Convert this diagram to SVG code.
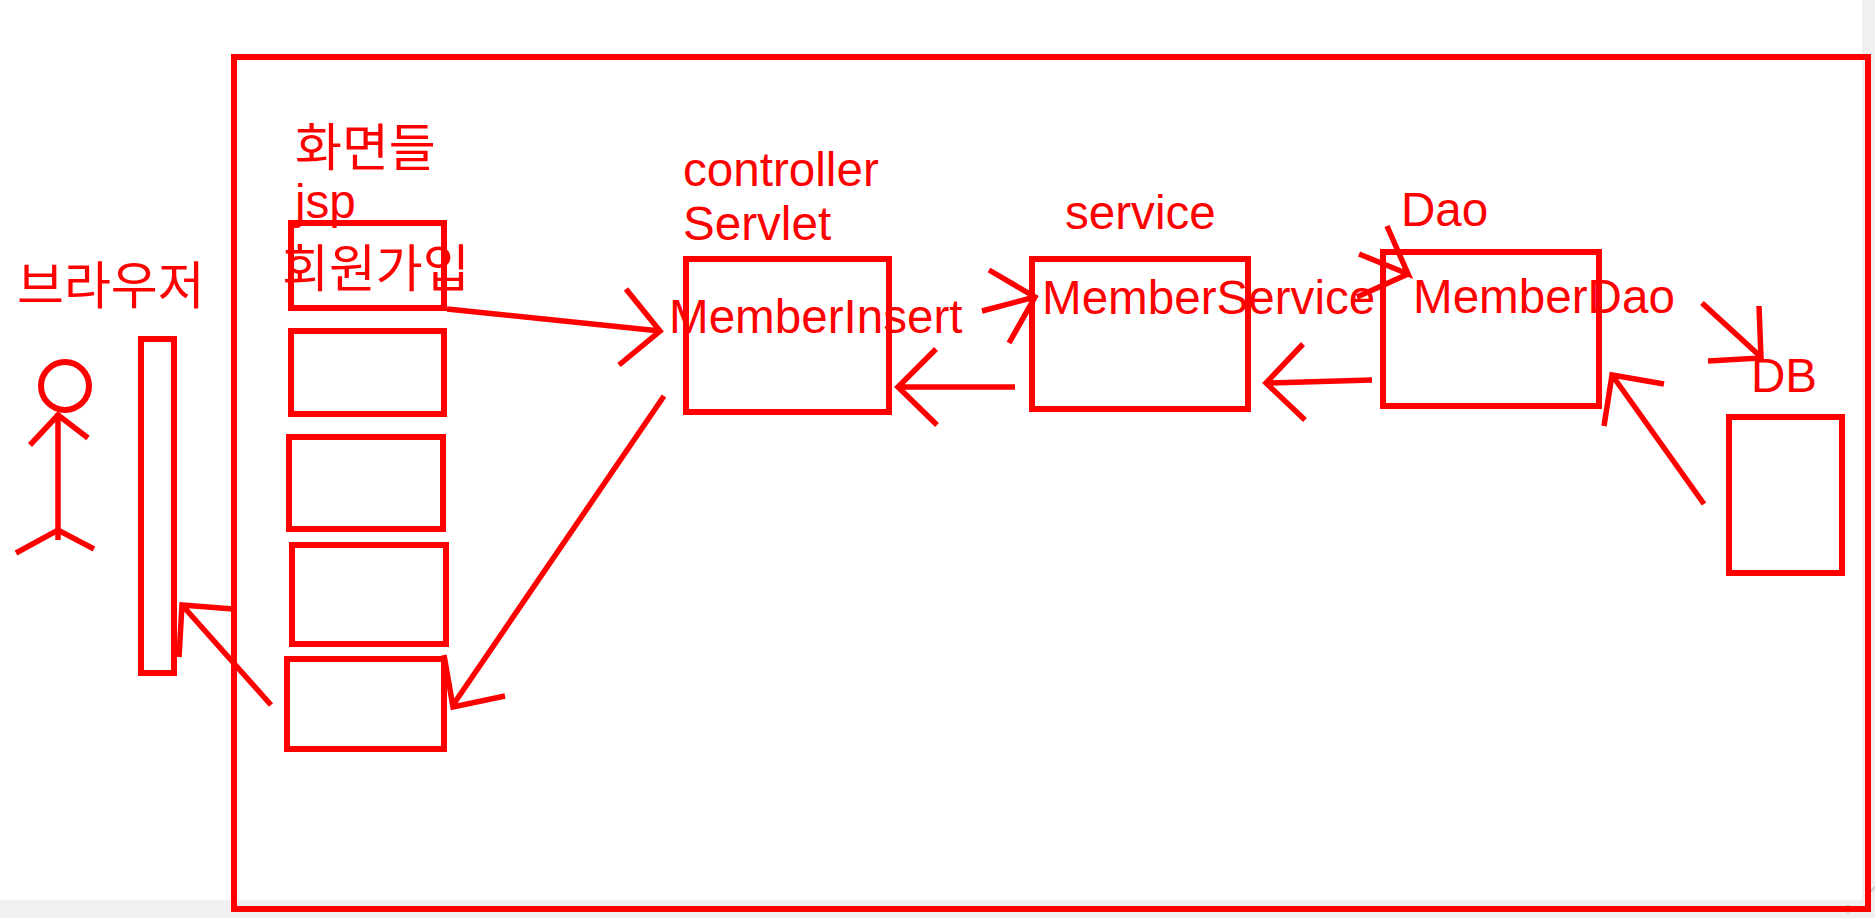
<svg xmlns="http://www.w3.org/2000/svg" width="1875" height="918" viewBox="0 0 1875 918">
<style>
.b{fill:none;stroke:#f00;stroke-width:6}
.c{fill:none;stroke:#f00;stroke-width:5.5}
.t{font-family:"Liberation Sans","Noto Sans CJK KR",sans-serif;font-size:47.6px;fill:#f00}
.k{font-family:"Noto Sans CJK KR","Liberation Sans",sans-serif;font-size:51px;fill:#f00}
</style>
<rect width="1875" height="918" fill="#f0f0f0"/>
<rect width="1862" height="900" fill="#fff"/>
<path d="M1846 906L1850 906M1848 906V913M1870 892L1875 887" fill="none" stroke="#c8c8c8" stroke-width="2"/>
<g id="frame"><rect class="b" x="234" y="57" width="1634" height="852"/></g>
<g id="actor">
<circle class="b" cx="65" cy="386" r="24"/>
<path class="c" d="M58 413V540M30 445L58 415L88 438M16 553L58 530L94 549"/>
<text class="k" x="17" y="304">브라우저</text>
</g>
<g id="browser"><rect class="b" x="141" y="339" width="33" height="334"/></g>
<g id="screens-label"><text class="k" x="295" y="166">화면들</text><text class="t" x="295" y="218">jsp</text></g>
<g id="screen1"><rect class="b" x="291" y="223" width="153" height="85"/><text class="k" x="282" y="287">회원가입</text></g>
<g id="screen2"><rect class="b" x="291" y="331" width="153" height="83"/></g>
<g id="screen3"><rect class="b" x="289" y="437" width="154" height="92"/></g>
<g id="screen4"><rect class="b" x="292" y="545" width="154" height="99"/></g>
<g id="screen5"><rect class="b" x="287" y="659" width="157" height="90"/></g>
<g id="controller">
<rect class="b" x="686" y="259" width="203" height="153"/>
<text class="t" x="683" y="186">controller</text>
<text class="t" x="683" y="240">Servlet</text>
<text class="t" x="669" y="333">MemberInsert</text>
</g>
<g id="service">
<rect class="b" x="1032" y="259" width="216" height="150"/>
<text class="t" x="1065" y="229">service</text>
<text class="t" x="1042" y="314">MemberService</text>
</g>
<g id="dao">
<rect class="b" x="1383" y="252" width="216" height="154"/>
<text class="t" x="1401" y="226">Dao</text>
<text class="t" x="1413" y="313">MemberDao</text>
</g>
<g id="db">
<rect class="b" x="1729" y="417" width="113" height="156"/>
<text class="t" x="1751" y="392">DB</text>
</g>
<g id="connectors">
<path class="c" d="M447 309L660 331M626 289L660 331L619 365"/>
<path class="c" d="M664 396L453 705M444 655L453 707L505 696"/>
<path class="c" d="M271 705L182 605M179 657L182 605L233 609"/>
<path class="c" d="M1015 387H898M936 349L898 387L937 425"/>
<path class="c" d="M982 311L1035 297M989 270L1035 297L1009 343"/>
<path class="c" d="M1372 380L1266 383M1303 344L1266 383L1305 420"/>
<path class="c" d="M1357 297L1408 274M1387 226L1408 274L1359 254"/>
<path class="c" d="M1702 303L1761 357M1759 306L1761 358L1708 361"/>
<path class="c" d="M1704 504L1612 375M1604 426L1612 375L1664 384"/>
</g>
</svg>
